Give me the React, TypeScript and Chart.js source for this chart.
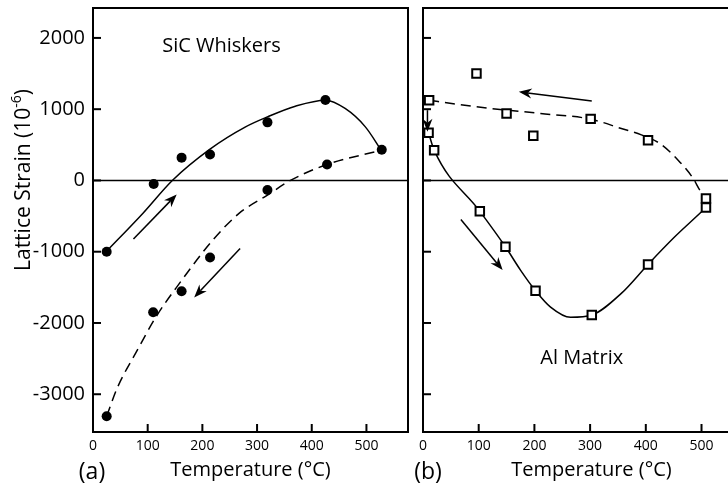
import React, { useEffect, useRef } from "react";
import { Chart, registerables } from "chart.js";

Chart.register(...registerables);

const FONT = "'Open Sans', 'Noto Sans', 'DejaVu Sans', sans-serif";

// ---------- Panel (a): SiC whiskers ----------
const sicHeatTemp = [25, 111, 162, 214, 319, 425, 528];
const sicHeatStrain = [-1000, -50, 320, 365, 815, 1130, 430];
const sicCoolTemp = [428, 319, 214, 162, 110, 25];
const sicCoolStrain = [225, -135, -1080, -1555, -1850, -3310];
const sicHeatFitTemp = [24, 91, 145, 214, 279, 319, 370, 425, 461, 498, 527];
const sicHeatFitStrain = [-1000, -463, 0, 440, 752, 892, 1042, 1126, 1010, 752, 425];
const sicCoolFitTemp = [25, 45, 79, 116, 158, 219, 267, 319, 361, 428, 528];
const sicCoolFitStrain = [-3306, -2900, -2410, -1905, -1445, -837, -463, -206, 0, 224, 425];
const sicArrowFrom = [[74, -823], [269, -954]];
const sicArrowTo = [[153, -196], [185, -1641]];

// ---------- Panel (b): Al matrix ----------
const alHeatTemp = [10, 20, 102, 148, 202, 303, 404, 508];
const alHeatStrain = [668, 425, -431, -931, -1548, -1889, -1178, -379];
const alCoolTemp = [508, 404, 301, 198, 150, 96, 11];
const alCoolStrain = [-252, 565, 864, 626, 940, 1501, 1126];
const alHeatFitTemp = [10, 20, 102, 148, 175, 202, 229, 265, 303, 356, 404, 452, 500, 508];
const alHeatFitStrain = [668, 425, -431, -931, -1258, -1548, -1778, -1921, -1889, -1585, -1178, -791, -440, -379];
const alCoolFitTemp = [11, 60, 121, 211, 301, 356, 392, 425, 458, 485, 497, 508];
const alCoolFitStrain = [1126, 1070, 1010, 940, 860, 729, 640, 519, 285, 28, -136, -252];
const alArrowFrom = [[303, 1116], [8, 986], [68, -547]];
const alArrowTo = [[172, 1243], [8, 682], [143, -1258]];

// ---------- Axes ----------
const tempTicks = [0, 100, 200, 300, 400, 500];
const strainTicks = [-3000, -2000, -1000, 0, 1000, 2000];
const strainMin = -3530;
const strainMax = 2420;

type Pt = { x: number; y: number };
const pts = (xs: number[], ys: number[]): Pt[] => xs.map((x, i) => ({ x, y: ys[i] }));

function drawArrow(ctx: CanvasRenderingContext2D, x1: number, y1: number, x2: number, y2: number) {
  const ang = Math.atan2(y2 - y1, x2 - x1);
  const len = 13, hw = 5, notch = 9;
  ctx.beginPath();
  ctx.moveTo(x1, y1);
  ctx.lineTo(x2 - Math.cos(ang) * notch, y2 - Math.sin(ang) * notch);
  ctx.stroke();
  ctx.save();
  ctx.translate(x2, y2);
  ctx.rotate(ang);
  ctx.beginPath();
  ctx.moveTo(0, 0);
  ctx.lineTo(-len, -hw);
  ctx.lineTo(-notch, 0);
  ctx.lineTo(-len, hw);
  ctx.closePath();
  ctx.fill();
  ctx.restore();
}

interface PanelSpec {
  heat: Pt[];
  cool: Pt[];
  heatFit: Pt[];
  coolFit: Pt[];
  marker: "circle" | "rect";
  arrowsFrom: number[][];
  arrowsTo: number[][];
  label: { text: string; x: number; y: number };
  letter: { text: string; px: number; py: number };
  xMax: number;
  yAxisWidth: number;
  showYLabels: boolean;
  padLeft: number;
  padRight: number;
  yTitle: boolean;
}

function panelPlugin(spec: PanelSpec) {
  return {
    id: "panelDecor",
    beforeDatasetsDraw(chart: any) {
      const { ctx, chartArea: a } = chart;
      const xs = chart.scales.x;
      const ys = chart.scales.y;
      ctx.save();
      ctx.strokeStyle = "#000";
      ctx.lineWidth = 1.5;
      const y0 = ys.getPixelForValue(0);
      ctx.beginPath();
      ctx.moveTo(a.left, y0);
      ctx.lineTo(a.right, y0);
      ctx.stroke();
      ctx.lineWidth = 2;
      xs.ticks.forEach((t: any) => {
        const px = xs.getPixelForValue(t.value);
        ctx.beginPath();
        ctx.moveTo(px, a.bottom);
        ctx.lineTo(px, a.bottom - 8);
        ctx.stroke();
      });
      ys.ticks.forEach((t: any) => {
        const py = ys.getPixelForValue(t.value);
        ctx.beginPath();
        ctx.moveTo(a.left, py);
        ctx.lineTo(a.left + 8, py);
        ctx.stroke();
      });
      ctx.strokeRect(a.left, a.top, a.right - a.left, a.bottom - a.top);
      ctx.restore();
    },
    afterDatasetsDraw(chart: any) {
      const { ctx } = chart;
      const xs = chart.scales.x;
      const ys = chart.scales.y;
      ctx.save();
      ctx.strokeStyle = "#000";
      ctx.fillStyle = "#000";
      ctx.lineWidth = 1.5;
      spec.arrowsFrom.forEach((f, i) => {
        const t = spec.arrowsTo[i];
        drawArrow(
          ctx,
          xs.getPixelForValue(f[0]),
          ys.getPixelForValue(f[1]),
          xs.getPixelForValue(t[0]),
          ys.getPixelForValue(t[1])
        );
      });
      ctx.textAlign = "center";
      ctx.textBaseline = "middle";
      ctx.font = `20px ${FONT}`;
      ctx.fillText(spec.label.text, xs.getPixelForValue(spec.label.x), ys.getPixelForValue(spec.label.y));
      ctx.font = `23px ${FONT}`;
      ctx.fillText(spec.letter.text, spec.letter.px, spec.letter.py);
      if (spec.yTitle) {
        ctx.save();
        ctx.translate(24, 180);
        ctx.rotate(-Math.PI / 2);
        const main = "Lattice Strain (10";
        const sup = "-6";
        const close = ")";
        ctx.font = `21px ${FONT}`;
        const wMain = ctx.measureText(main).width;
        const wClose = ctx.measureText(close).width;
        ctx.font = `14px ${FONT}`;
        const wSup = ctx.measureText(sup).width;
        const total = wMain + wSup + wClose;
        let x = -total / 2;
        ctx.textAlign = "left";
        ctx.font = `21px ${FONT}`;
        ctx.fillText(main, x, 0);
        x += wMain;
        ctx.font = `14px ${FONT}`;
        ctx.fillText(sup, x, -7);
        x += wSup;
        ctx.font = `21px ${FONT}`;
        ctx.fillText(close, x, 0);
        ctx.restore();
      }
      ctx.restore();
    },
  };
}

function buildChart(canvas: HTMLCanvasElement, spec: PanelSpec) {
  const pointStyle = spec.marker;
  const markerCommon =
    spec.marker === "circle"
      ? { pointRadius: 5, pointBackgroundColor: "#000", pointBorderColor: "#000", pointBorderWidth: 0 }
      : { pointRadius: 6, pointBackgroundColor: "#fff", pointBorderColor: "#000", pointBorderWidth: 2 };
  return new Chart(canvas, {
    type: "scatter",
    data: {
      datasets: [
        { label: "heating", data: spec.heat, showLine: false, pointStyle, ...markerCommon } as any,
        { label: "cooling", data: spec.cool, showLine: false, pointStyle, ...markerCommon } as any,
        {
          label: "heating fit",
          type: "line",
          data: spec.heatFit,
          borderColor: "#000",
          borderWidth: 1.5,
          pointRadius: 0,
          fill: false,
          cubicInterpolationMode: "monotone",
        } as any,
        {
          label: "cooling fit",
          type: "line",
          data: spec.coolFit,
          borderColor: "#000",
          borderWidth: 1.5,
          borderDash: [10, 6],
          pointRadius: 0,
          fill: false,
          cubicInterpolationMode: "monotone",
        } as any,
      ],
    },
    options: {
      responsive: false,
      animation: false,
      devicePixelRatio: 1,
      layout: { padding: { left: spec.padLeft, top: 8, right: spec.padRight, bottom: 0 } },
      plugins: { legend: { display: false }, tooltip: { enabled: false } },
      scales: {
        x: {
          type: "linear",
          min: 0,
          max: spec.xMax,
          grid: { display: false, drawTicks: false },
          border: { display: false },
          afterBuildTicks: (s: any) => {
            s.ticks = tempTicks.map((v) => ({ value: v }));
          },
          ticks: {
            font: { family: FONT, size: 14 },
            color: "#000",
            padding: 6,
            maxRotation: 0,
            autoSkip: false,
            callback: (v: any) => String(v),
          },
          title: {
            display: true,
            text: "Temperature (°C)",
            font: { family: FONT, size: 20 },
            color: "#000",
            padding: { top: 0, bottom: 14 },
          },
          afterFit: (s: any) => {
            s.height = 64;
            s.paddingLeft = 0;
            s.paddingRight = 0;
            s.paddingTop = 0;
            s.paddingBottom = 0;
          },
        },
        y: {
          type: "linear",
          min: strainMin,
          max: strainMax,
          grid: { display: false, drawTicks: false },
          border: { display: false },
          afterBuildTicks: (s: any) => {
            s.ticks = strainTicks.map((v) => ({ value: v }));
          },
          ticks: {
            display: spec.showYLabels,
            font: { family: FONT, size: 20 },
            color: "#000",
            padding: 8,
            autoSkip: false,
            callback: (v: any) => String(v),
          },
          afterFit: (s: any) => {
            s.width = spec.yAxisWidth;
            s.paddingLeft = 0;
            s.paddingRight = 0;
            s.paddingTop = 0;
            s.paddingBottom = 0;
          },
        },
      },
    } as any,
    plugins: [panelPlugin(spec)],
  });
}

export default function App() {
  const leftRef = useRef<HTMLCanvasElement | null>(null);
  const rightRef = useRef<HTMLCanvasElement | null>(null);

  useEffect(() => {
    document.body.style.margin = "0";
    const left = buildChart(leftRef.current!, {
      heat: pts(sicHeatTemp, sicHeatStrain),
      cool: pts(sicCoolTemp, sicCoolStrain),
      heatFit: pts(sicHeatFitTemp, sicHeatFitStrain),
      coolFit: pts(sicCoolFitTemp, sicCoolFitStrain),
      marker: "circle",
      arrowsFrom: sicArrowFrom,
      arrowsTo: sicArrowTo,
      label: { text: "SiC Whiskers", x: 235, y: 1888 },
      letter: { text: "(a)", px: 92, py: 472 },
      xMax: 576,
      yAxisWidth: 93,
      showYLabels: true,
      padLeft: 0,
      padRight: 3,
      yTitle: true,
    });
    const right = buildChart(rightRef.current!, {
      heat: pts(alHeatTemp, alHeatStrain),
      cool: pts(alCoolTemp, alCoolStrain),
      heatFit: pts(alHeatFitTemp, alHeatFitStrain),
      coolFit: pts(alCoolFitTemp, alCoolFitStrain),
      marker: "rect",
      arrowsFrom: alArrowFrom,
      arrowsTo: alArrowTo,
      label: { text: "Al Matrix", x: 285, y: -2492 },
      letter: { text: "(b)", px: 15, py: 472 },
      xMax: 605,
      yAxisWidth: 0,
      showYLabels: false,
      padLeft: 10,
      padRight: 0,
      yTitle: false,
    });
    return () => {
      left.destroy();
      right.destroy();
    };
  }, []);

  return (
    <div
      style={{
        position: "fixed",
        left: 0,
        top: 0,
        width: 728,
        height: 496,
        overflow: "hidden",
        background: "#fff",
      }}
    >
      <canvas
        ref={leftRef}
        width={413}
        height={496}
        style={{ position: "absolute", left: 0, top: 0, width: 413, height: 496 }}
      />
      <canvas
        ref={rightRef}
        width={355}
        height={496}
        style={{ position: "absolute", left: 413, top: 0, width: 355, height: 496 }}
      />
    </div>
  );
}
